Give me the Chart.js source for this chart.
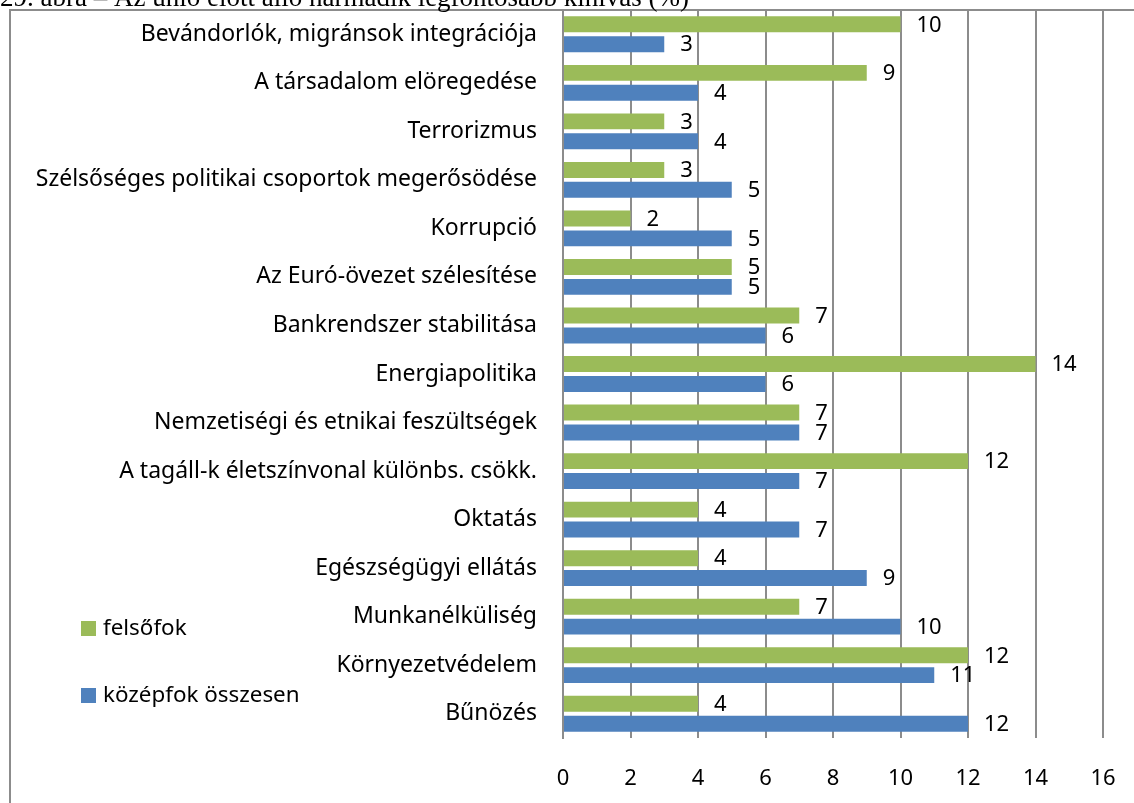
<!DOCTYPE html>
<html lang="hu">
<head>
    <meta charset="UTF-8">
    <title>Az unió előtt álló harmadik legfontosabb kihívás</title>
    <script src="https://cdn.jsdelivr.net/npm/chart.js"></script>
    <style>
        html, body { margin: 0; padding: 0; background: #fff; overflow: hidden; }
        #wrap { width: 1134px; height: 803px; }
    </style>
</head>
<body>
    <div id="wrap"><canvas id="chart" width="1134" height="803"></canvas></div>

    <script>
        // adatok (felülről lefelé)
        const kategoriak = [
            'Bevándorlók, migránsok integrációja',
            'A társadalom elöregedése',
            'Terrorizmus',
            'Szélsőséges politikai csoportok megerősödése',
            'Korrupció',
            'Az Euró-övezet szélesítése',
            'Bankrendszer stabilitása',
            'Energiapolitika',
            'Nemzetiségi és etnikai feszültségek',
            'A tagáll-k életszínvonal különbs. csökk.',
            'Oktatás',
            'Egészségügyi ellátás',
            'Munkanélküliség',
            'Környezetvédelem',
            'Bűnözés'
        ];
        const felsofok = [10, 9, 3, 3, 2, 5, 7, 14, 7, 12, 4, 4, 7, 12, 4];
        const kozepfok = [3, 4, 4, 5, 5, 5, 6, 6, 7, 7, 7, 9, 10, 11, 12];
        const xTicks = [0, 2, 4, 6, 8, 10, 12, 14, 16];

        const FONT = '"Noto Sans", sans-serif';
        const FSIZE = 22;
        const GRID = '#8c8c8c';

        // keret, cím, adatfeliratok, jelmagyarázat
        const extras = {
            id: 'extras',
            afterDraw(chart) {
                const ctx = chart.ctx;
                ctx.save();
                // keret
                ctx.strokeStyle = GRID;
                ctx.lineWidth = 2;
                ctx.strokeRect(10, 10, 1200, 900);
                // levágott cím
                ctx.fillStyle = '#000';
                ctx.font = '27px "Liberation Serif", serif';
                ctx.textBaseline = 'alphabetic';
                ctx.textAlign = 'left';
                ctx.fillText('29. ábra – Az unió előtt álló harmadik legfontosabb kihívás (%)', 0, 6);

                // értékek a sávok végén
                ctx.font = FSIZE + 'px ' + FONT;
                ctx.textBaseline = 'middle';
                chart.data.datasets.forEach((ds, i) => {
                    chart.getDatasetMeta(i).data.forEach((bar, j) => {
                        ctx.fillText(String(ds.data[j]), bar.x + 16, bar.y + 1);
                    });
                });

                // jelmagyarázat
                ctx.font = '22.4px ' + FONT;
                const items = [
                    { t: 'felsőfok', c: chart.data.datasets[0].backgroundColor, y: 628 },
                    { t: 'középfok összesen', c: chart.data.datasets[1].backgroundColor, y: 695 }
                ];
                items.forEach(it => {
                    ctx.fillStyle = it.c;
                    ctx.fillRect(81, it.y - 7, 15, 15);
                    ctx.fillStyle = '#000';
                    ctx.fillText(it.t, 103, it.y + 1);
                });
                ctx.restore();
            }
        };

        new Chart(document.getElementById('chart'), {
            type: 'bar',
            data: {
                labels: kategoriak,
                datasets: [
                    {
                        label: 'felsőfok',
                        data: felsofok,
                        backgroundColor: '#9bbb59',
                        categoryPercentage: 0.82,
                        barPercentage: 0.8
                    },
                    {
                        label: 'középfok összesen',
                        data: kozepfok,
                        backgroundColor: '#4f81bd',
                        categoryPercentage: 0.82,
                        barPercentage: 0.8
                    }
                ]
            },
            options: {
                indexAxis: 'y',
                responsive: false,
                animation: false,
                layout: { padding: { top: 10, right: 31, left: 0, bottom: 0 } },
                plugins: {
                    legend: { display: false },
                    tooltip: { enabled: false }
                },
                scales: {
                    x: {
                        min: 0,
                        max: 16,
                        afterBuildTicks(scale) {
                            scale.ticks = xTicks.map(v => ({ value: v }));
                        },
                        afterFit(scale) {
                            scale.height = 65;
                            scale.paddingLeft = 0;
                            scale.paddingRight = 0;
                        },
                        grid: { color: GRID, lineWidth: 2, drawTicks: false },
                        border: { display: false },
                        ticks: { color: '#000', padding: 28, font: { family: FONT, size: FSIZE } }
                    },
                    y: {
                        afterFit(scale) {
                            scale.width = 563;
                            scale.paddingTop = 0;
                            scale.paddingBottom = 0;
                        },
                        grid: { display: false, drawTicks: false },
                        border: { display: true, color: GRID, width: 2 },
                        ticks: { color: '#000', padding: 26, autoSkip: false, font: { family: FONT, size: 23 } }
                    }
                }
            },
            plugins: [extras]
        });
    </script>
</body>
</html>
